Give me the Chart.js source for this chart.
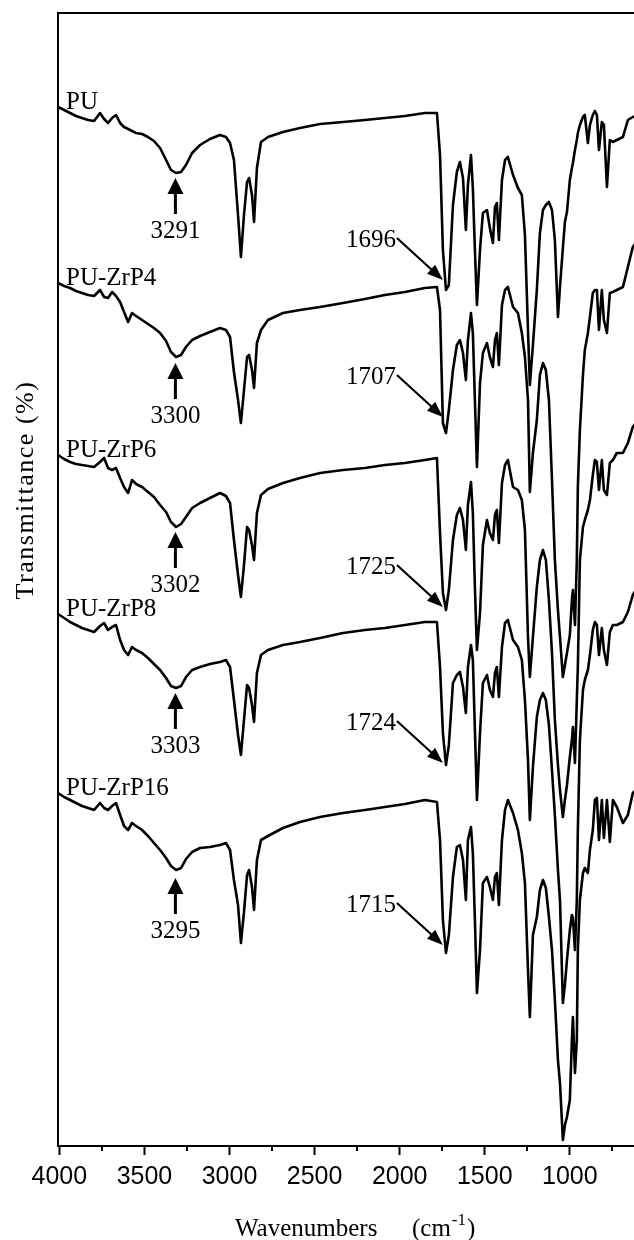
<!DOCTYPE html>
<html>
<head>
<meta charset="utf-8">
<script src="https://cdn.jsdelivr.net/npm/chart.js@4.4.0/dist/chart.umd.min.js"></script>
<style>
  html, body { margin: 0; padding: 0; background: #fff; }
  canvas { display: block; }
</style>
</head>
<body>
<canvas id="chart" width="634" height="1240"></canvas>
<script>
// wavenumbers (cm-1) shared by the five spectra
const wavenumbers = [
  4008, 3972, 3937, 3902, 3867, 3831, 3796, 3761, 3737, 3714,
  3690, 3667, 3643, 3620, 3596, 3573, 3549, 3514, 3479, 3444,
  3408, 3373, 3344, 3314, 3285, 3256, 3220, 3173, 3115, 3056,
  3021, 2997, 2974, 2950, 2933, 2915, 2897, 2885, 2868, 2856,
  2839, 2815, 2774, 2686, 2586, 2468, 2333, 2204, 2087, 1969,
  1852, 1781, 1763, 1746, 1728, 1711, 1687, 1664, 1646, 1628,
  1611, 1599, 1581, 1570, 1558, 1546, 1528, 1511, 1487, 1470,
  1452, 1440, 1429, 1417, 1399, 1381, 1364, 1334, 1305, 1282,
  1264, 1246, 1235, 1217, 1194, 1176, 1158, 1141, 1123, 1105,
  1088, 1070, 1058, 1041, 1029, 1017, 1000, 988, 982, 970,
  959, 953, 941, 923, 912, 894, 882, 865, 853, 841,
  829, 812, 800, 782, 765, 747, 724, 688, 659, 630,
  612
]

// transmittance, stacked (arbitrary offset units)
const pu = [
  103.9, 103.6, 103.3, 103.0, 102.8, 102.6, 102.5, 103.3, 102.7, 102.3,
  102.8, 103.1, 102.3, 101.9, 101.7, 101.5, 101.3, 101.2, 100.9, 100.5,
  99.8, 98.6, 97.6, 97.3, 97.4, 98.1, 99.3, 100.1, 100.7, 101.1,
  100.9, 100.3, 98.6, 93.1, 88.9, 93.1, 96.4, 96.8, 95.1, 92.4,
  97.8, 100.4, 100.9, 101.4, 101.8, 102.2, 102.4, 102.6, 102.8, 103.0,
  103.3, 103.3, 99.1, 89.6, 85.6, 86.1, 94.1, 97.4, 98.4, 96.8,
  91.6, 96.1, 99.1, 95.8, 89.6, 84.1, 89.6, 93.3, 93.6, 91.8,
  90.3, 93.9, 94.3, 90.6, 96.6, 98.6, 98.9, 97.1, 95.8, 95.1,
  91.1, 81.6, 76.1, 80.1, 85.6, 91.3, 93.6, 94.1, 94.4, 93.6,
  90.6, 82.9, 85.9, 89.8, 92.4, 93.4, 96.6, 97.8, 98.3, 99.6,
  100.6, 101.3, 102.1, 102.9, 103.1, 100.3, 102.1, 103.1, 103.5, 103.1,
  99.6, 102.4, 102.1, 95.9, 100.6, 100.4, 100.6, 100.9, 102.6, 102.9,
  103.0
]
const zrp4 = [
  86.3, 86.0, 85.8, 85.5, 85.3, 85.1, 85.0, 85.6, 84.9, 84.8,
  85.4, 85.0, 84.4, 83.4, 82.4, 83.3, 83.0, 82.6, 82.2, 81.8,
  81.3, 80.5, 79.4, 78.9, 79.1, 79.9, 80.6, 81.0, 81.4, 81.8,
  81.6, 80.9, 77.4, 74.6, 72.3, 75.6, 78.9, 79.1, 77.6, 75.8,
  80.3, 81.6, 82.6, 83.3, 83.6, 83.9, 84.3, 84.7, 85.1, 85.4,
  85.8, 85.9, 83.6, 72.3, 71.3, 73.6, 77.6, 80.1, 80.6, 79.3,
  76.6, 80.6, 83.3, 81.3, 74.6, 67.9, 76.3, 79.3, 80.3, 78.9,
  77.9, 80.6, 81.3, 78.1, 84.1, 85.6, 85.9, 83.9, 83.3, 81.3,
  78.9, 74.6, 65.4, 69.3, 72.6, 77.1, 78.3, 77.6, 74.6, 66.6,
  58.6, 53.6, 50.9, 46.9, 48.1, 49.3, 51.1, 54.6, 55.6, 52.1,
  58.6, 65.9, 71.6, 77.1, 79.6, 81.3, 82.9, 85.3, 85.6, 85.6,
  81.6, 85.6, 82.6, 81.3, 85.3, 85.4, 85.6, 85.9, 87.9, 89.9,
  90.3
]
const zrp6 = [
  69.1, 68.7, 68.4, 68.2, 68.1, 68.0, 67.9, 68.4, 68.8, 67.8,
  67.6, 67.8, 66.8, 65.9, 65.3, 66.6, 66.2, 65.9, 65.4, 64.9,
  64.1, 63.4, 62.4, 61.9, 62.2, 62.9, 63.8, 64.3, 64.8, 65.3,
  65.0, 64.3, 60.6, 57.1, 54.9, 58.1, 61.9, 61.6, 60.1, 58.6,
  63.3, 65.1, 65.7, 66.3, 66.8, 67.3, 67.6, 67.8, 68.1, 68.3,
  68.6, 68.8, 61.3, 55.3, 53.6, 55.6, 60.6, 63.1, 63.8, 62.6,
  59.6, 64.1, 66.4, 63.3, 55.9, 49.6, 53.3, 60.1, 62.6, 61.3,
  60.6, 63.1, 63.6, 60.3, 66.3, 68.1, 68.6, 65.9, 65.6, 64.6,
  61.6, 50.9, 46.9, 50.9, 55.9, 58.6, 59.6, 58.6, 54.6, 49.3,
  42.6, 38.1, 35.6, 32.9, 34.6, 36.1, 38.9, 40.6, 41.9, 38.3,
  44.6, 47.9, 58.6, 61.9, 62.6, 63.6, 64.6, 67.1, 68.6, 68.4,
  65.6, 68.6, 65.6, 65.1, 68.3, 68.6, 69.3, 69.3, 70.3, 71.9,
  72.3
]
const zrp8 = [
  53.2, 52.8, 52.4, 52.1, 51.8, 51.6, 51.4, 52.0, 52.3, 51.6,
  51.9, 52.1, 50.6, 49.6, 49.1, 49.9, 49.6, 49.3, 48.8, 48.2,
  47.6, 46.8, 46.0, 45.8, 46.0, 46.9, 47.6, 47.9, 48.2, 48.4,
  48.6, 47.9, 44.6, 41.1, 39.1, 42.6, 46.1, 45.8, 44.1, 42.4,
  47.3, 49.1, 49.6, 50.1, 50.4, 50.8, 51.3, 51.6, 51.8, 52.1,
  52.4, 52.4, 47.9, 41.3, 38.1, 40.1, 46.3, 47.1, 47.4, 45.9,
  43.3, 47.9, 50.1, 48.6, 41.6, 34.6, 41.3, 46.3, 47.1, 45.6,
  44.9, 47.3, 47.9, 44.9, 49.9, 52.3, 52.6, 50.6, 49.9, 48.6,
  44.6, 38.6, 32.6, 37.9, 42.9, 44.6, 45.3, 44.6, 42.1, 37.6,
  33.1, 27.6, 24.6, 14.3, 16.1, 18.6, 21.6, 23.1, 22.8, 19.6,
  24.6, 31.6, 40.6, 45.6, 46.6, 47.6, 49.1, 51.6, 52.4, 52.1,
  49.1, 51.8, 49.6, 48.1, 51.4, 52.1, 52.1, 52.4, 53.4, 55.1,
  55.6
]
const zrp16 = [
  35.3, 34.9, 34.6, 34.3, 34.0, 33.8, 33.6, 34.3, 33.8, 33.6,
  34.0, 34.3, 33.1, 32.0, 31.6, 32.3, 32.0, 31.6, 31.0, 30.3,
  29.6, 28.8, 28.0, 27.6, 27.8, 28.7, 29.4, 29.8, 29.9, 30.1,
  30.3, 29.6, 26.6, 24.1, 20.3, 23.4, 27.1, 27.6, 25.9, 23.6,
  28.6, 30.6, 31.0, 31.8, 32.4, 32.9, 33.3, 33.6, 33.9, 34.2,
  34.6, 34.4, 30.6, 22.6, 19.3, 21.1, 26.9, 29.9, 30.1, 28.6,
  24.6, 30.6, 31.9, 29.3, 22.6, 15.3, 19.6, 26.3, 26.9, 25.9,
  24.6, 26.9, 27.3, 24.1, 30.6, 33.6, 34.6, 33.3, 31.6, 29.3,
  26.3, 17.6, 12.9, 21.1, 22.9, 25.6, 26.6, 25.8, 22.9, 19.6,
  14.6, 8.6, 6.3, 0.6, 2.1, 2.9, 4.6, 10.6, 12.9, 7.3,
  10.6, 19.6, 24.6, 27.3, 27.8, 27.3, 29.6, 31.6, 34.6, 34.8,
  30.6, 34.6, 30.8, 34.6, 30.4, 34.6, 33.9, 32.3, 33.1, 35.3,
  35.6
]

const names = ['PU', 'PU-ZrP4', 'PU-ZrP6', 'PU-ZrP8', 'PU-ZrP16']
const spectra = [pu, zrp4, zrp6, zrp8, zrp16]

// N-H band markers (up arrows)
const nhLabels = ['3291', '3300', '3302', '3303', '3295']
const nhArrowAt = 3318
const nhArrowTips = [96.8, 78.3, 61.4, 45.3, 26.8]

// C=O band markers (diagonal arrows)
const coLabels = ['1696', '1707', '1725', '1724', '1715']
const coArrowAt = 1746
const coArrowTips = [86.6, 72.9, 53.9, 38.3, 20.1]

const majorTicks = [4000, 3500, 3000, 2500, 2000, 1500, 1000]
const minorTicks = [3750, 3250, 2750, 2250, 1750, 1250, 750]

const serif = '"Liberation Serif", "Times New Roman", Times, serif'

const decor = {
  id: 'decor',
  afterDraw(chart) {
    const { ctx, chartArea: a, scales: { x, y } } = chart
    ctx.save()
    ctx.strokeStyle = '#000'
    ctx.fillStyle = '#000'

    // top frame line
    ctx.lineWidth = 2
    ctx.beginPath()
    ctx.moveTo(a.left - 1, a.top)
    ctx.lineTo(a.right, a.top)
    ctx.stroke()

    // minor ticks
    minorTicks.forEach((v) => {
      const px = Math.round(x.getPixelForValue(v))
      ctx.beginPath()
      ctx.moveTo(px, a.bottom)
      ctx.lineTo(px, a.bottom + 5)
      ctx.stroke()
    })

    // sample names at the start of each spectrum
    ctx.font = '25px ' + serif
    ctx.textAlign = 'left'
    ctx.textBaseline = 'alphabetic'
    spectra.forEach((s, i) => {
      ctx.fillText(names[i], x.getPixelForValue(wavenumbers[0]) + 8, y.getPixelForValue(s[0]) + 2)
    })

    // N-H arrows
    nhArrowTips.forEach((t, i) => {
      const px = x.getPixelForValue(nhArrowAt)
      const py = y.getPixelForValue(t)
      ctx.beginPath()
      ctx.moveTo(px, py)
      ctx.lineTo(px - 8, py + 16)
      ctx.lineTo(px + 8, py + 16)
      ctx.closePath()
      ctx.fill()
      ctx.lineWidth = 3
      ctx.beginPath()
      ctx.moveTo(px, py + 14)
      ctx.lineTo(px, py + 36)
      ctx.stroke()
      ctx.textAlign = 'center'
      ctx.fillText(nhLabels[i], px, py + 60)
    })

    // C=O arrows
    coArrowTips.forEach((t, i) => {
      const px = x.getPixelForValue(coArrowAt)
      const py = y.getPixelForValue(t)
      const sx = px - 46
      const sy = py - 42
      const ang = Math.atan2(py - sy, px - sx)
      const cos = Math.cos(ang)
      const sin = Math.sin(ang)
      ctx.lineWidth = 2.2
      ctx.beginPath()
      ctx.moveTo(sx, sy)
      ctx.lineTo(px - cos * 10, py - sin * 10)
      ctx.stroke()
      ctx.beginPath()
      ctx.moveTo(px, py)
      ctx.lineTo(px - cos * 16 - sin * 6, py - sin * 16 + cos * 6)
      ctx.lineTo(px - cos * 16 + sin * 6, py - sin * 16 - cos * 6)
      ctx.closePath()
      ctx.fill()
      ctx.textAlign = 'right'
      ctx.fillText(coLabels[i], px - 47, py - 33)
    })

    // x axis title
    ctx.textAlign = 'left'
    const tx = a.left + 177
    const ty = a.bottom + 90
    ctx.fillText('Wavenumbers', tx, ty)
    const cx = a.left + 354
    ctx.fillText('(cm', cx, ty)
    const w = ctx.measureText('(cm').width
    ctx.font = '17px ' + serif
    ctx.fillText('-1', cx + w + 1, ty - 11)
    const w2 = ctx.measureText('-1').width
    ctx.font = '25px ' + serif
    ctx.fillText(')', cx + w + w2 + 2, ty)

    // y axis title
    ctx.save()
    ctx.translate(a.left - 25, a.top + 477)
    ctx.rotate(-Math.PI / 2)
    ctx.textAlign = 'center'
    ctx.font = '26px ' + serif
    ctx.letterSpacing = '1.5px'
    ctx.fillText('Transmittance (%)', 0, 0)
    ctx.restore()

    ctx.restore()
  }
}

const ctx = document.getElementById('chart').getContext('2d')
const chart = new Chart(ctx, {
  type: 'line',
  data: {
    datasets: spectra.map((s, i) => ({
      label: names[i],
      data: wavenumbers.map((w, j) => ({ x: w, y: s[j] })),
      borderColor: '#000',
      borderWidth: 2.6,
      borderJoinStyle: 'round',
      pointRadius: 0,
      tension: 0,
      fill: false
    }))
  },
  options: {
    responsive: false,
    animation: false,
    events: [],
    layout: { padding: { left: 58, top: 13, right: 0, bottom: 0 } },
    plugins: { legend: { display: false }, tooltip: { enabled: false } },
    scales: {
      x: {
        type: 'linear',
        reverse: true,
        min: 623,
        max: 4008,
        afterBuildTicks: (scale) => { scale.ticks = majorTicks.map((v) => ({ value: v })) },
        afterFit: (scale) => {
          scale.height = 94
          scale.paddingLeft = 0
          scale.paddingRight = 0
        },
        ticks: {
          autoSkip: false,
          maxRotation: 0,
          padding: 7,
          color: '#000',
          callback: (v) => String(v),
          font: { family: '"Liberation Sans", Arial, sans-serif', size: 25 }
        },
        grid: { drawOnChartArea: false, tickLength: 9, tickWidth: 2, tickColor: '#000' },
        border: { color: '#000', width: 2 }
      },
      y: {
        min: 0,
        max: 113.3,
        afterFit: (scale) => { scale.width = 0 },
        ticks: { display: false },
        grid: { display: false, drawTicks: false },
        border: { color: '#000', width: 2 }
      }
    }
  },
  plugins: [decor]
})
</script>
</body>
</html>
